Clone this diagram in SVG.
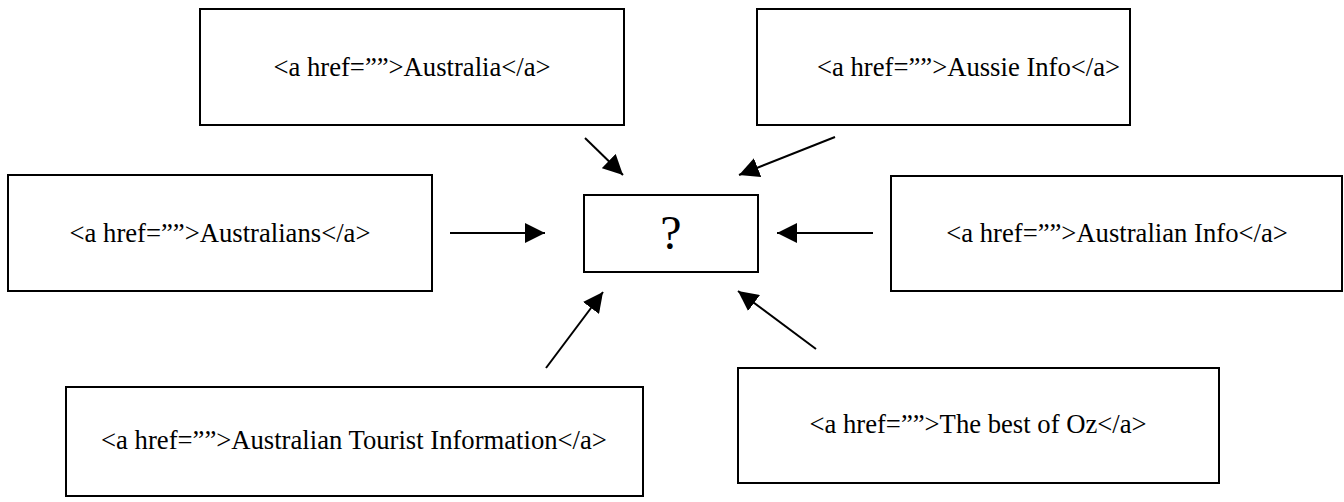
<svg xmlns="http://www.w3.org/2000/svg" width="1344" height="502" viewBox="0 0 1344 502">
<style>
.box{fill:#fff;stroke:#000;stroke-width:2}
.lbl{font-family:"Liberation Serif","Times New Roman",serif;font-size:26.67px;fill:#000;text-anchor:middle}
.q{font-family:"Liberation Serif","Times New Roman",serif;font-size:48px;fill:#000;text-anchor:middle}
.conn{stroke:#000;stroke-width:2;fill:none;marker-end:url(#ah)}
</style>
<defs>
<marker id="ah" viewBox="0 0 20 20" refX="20" refY="10" markerWidth="20" markerHeight="20" markerUnits="userSpaceOnUse" orient="auto">
<path d="M0,0 L20,10 L0,20 Z" fill="#000"/>
</marker>
</defs>
<rect width="1344" height="502" fill="#fff"/>
<g id="n1"><rect class="box" x="200" y="9" width="424" height="116"/><text class="lbl" x="412" y="76">&lt;a href=””&gt;Australia&lt;/a&gt;</text></g>
<g id="n2"><rect class="box" x="757" y="9" width="373" height="116"/><text class="lbl" x="817" y="76" style="text-anchor:start">&lt;a href=””&gt;Aussie Info&lt;/a&gt;</text></g>
<g id="n3"><rect class="box" x="8" y="175" width="424" height="116"/><text class="lbl" x="220" y="242">&lt;a href=””&gt;Australians&lt;/a&gt;</text></g>
<g id="center"><rect class="box" x="584" y="195" width="174" height="77"/><text class="q" x="671" y="249">?</text></g>
<g id="n4"><rect class="box" x="891" y="176" width="451" height="115"/><text class="lbl" x="1117" y="242">&lt;a href=””&gt;Australian Info&lt;/a&gt;</text></g>
<g id="n5"><rect class="box" x="66" y="387" width="577" height="109"/><text class="lbl" x="354" y="449">&lt;a href=””&gt;Australian Tourist Information&lt;/a&gt;</text></g>
<g id="n6"><rect class="box" x="738" y="368" width="481" height="115"/><text class="lbl" x="978" y="433">&lt;a href=””&gt;The best of Oz&lt;/a&gt;</text></g>
<g id="connectors">
<line class="conn" x1="585" y1="138" x2="623" y2="175"/>
<line class="conn" x1="835" y1="137" x2="739" y2="175"/>
<line class="conn" x1="450" y1="233" x2="545" y2="233"/>
<line class="conn" x1="873" y1="233" x2="777" y2="233"/>
<line class="conn" x1="546" y1="368" x2="603" y2="292"/>
<line class="conn" x1="816" y1="349" x2="738" y2="291"/>
</g>
</svg>
